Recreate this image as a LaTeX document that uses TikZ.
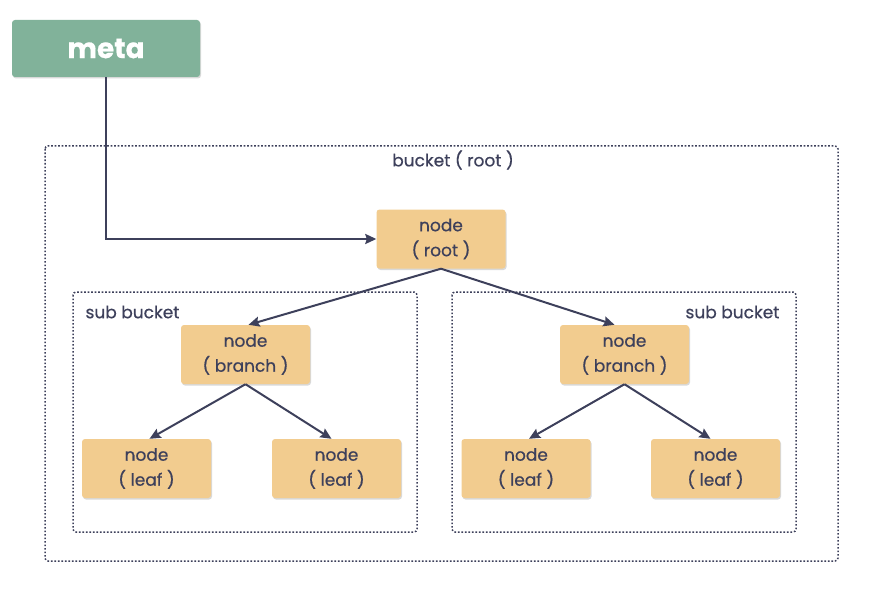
\documentclass[tikz,border=0pt]{standalone}
\usepackage{fontspec}
\setmainfont{Poppins}[FakeBold=0.5]
\usetikzlibrary{arrows.meta,shadows,positioning}
\definecolor{ink}{HTML}{3D405B}
\definecolor{sand}{HTML}{F2CC8F}
\definecolor{sage}{HTML}{81B29A}
\tikzset{
  treenode/.style={draw=none, fill=sand, rounded corners=3pt, minimum width=129pt, minimum height=59pt,
    align=center, text=ink, font=\fontsize{17}{25}\selectfont,
    drop shadow={shadow xshift=1pt, shadow yshift=-1.5pt, opacity=0.25, fill=black!60}},
  metabox/.style={fill=sage, rounded corners=3pt, minimum width=188pt, minimum height=57pt,
    text=white, font=\fontsize{28}{30}\selectfont\bfseries,
    drop shadow={shadow xshift=1pt, shadow yshift=-1.5pt, opacity=0.25, fill=black!60}},
  bucketbox/.style={draw=ink, line width=1.5pt, dash pattern=on 1.6pt off 1.9pt, rounded corners=3pt},
  caption/.style={text=ink, font=\fontsize{17}{18}\selectfont},
  link/.style={draw=ink, line width=2pt, -{Stealth[length=11pt,width=10pt,inset=1.5pt]}}
}
\begin{document}
\begin{tikzpicture}[x=1pt,y=-1pt]
\useasboundingbox (0,0) rectangle (878,591);

% bucket outlines
\draw[bucketbox] (45,146) rectangle (838,561);
\draw[bucketbox] (73,292) rectangle (417,532);
\draw[bucketbox] (452,292) rectangle (796,532);

% captions
\node[caption] (rootcap) at (453,160) {bucket ( root )};
\node[caption, anchor=west] (subl) at (82,312) {sub bucket};
\node[caption, anchor=east] (subr) at (783,312) {sub bucket};

% meta
\node[metabox] (meta) at (106,48.5) {meta};

% tree nodes
\node[treenode] (root) at (441,239) {node\\( root )};
\node[treenode] (bl) at (245.5,354.5) {node\\( branch )};
\node[treenode] (br) at (624.5,354.5) {node\\( branch )};
\node[treenode] (ll) at (146.5,468.5) {node\\( leaf )};
\node[treenode] (lr) at (336.5,468.5) {node\\( leaf )};
\node[treenode] (rl) at (526,468.5) {node\\( leaf )};
\node[treenode] (rr) at (715.5,468.5) {node\\( leaf )};

% connectors
\coordinate (bend) at (meta.south |- root.west);
\draw[link] (meta.south) -- (bend) -- (root.west);
\draw[link] (root.south) -- ([xshift=3pt]bl.north);
\draw[link] (root.south) -- ([xshift=-10pt]br.north);
\draw[link] (bl.south) -- ([xshift=3pt]ll.north);
\draw[link] (bl.south) -- ([xshift=-5pt]lr.north);
\draw[link] (br.south) -- ([xshift=3pt]rl.north);
\draw[link] (br.south) -- ([xshift=-5pt]rr.north);
\end{tikzpicture}
\end{document}
